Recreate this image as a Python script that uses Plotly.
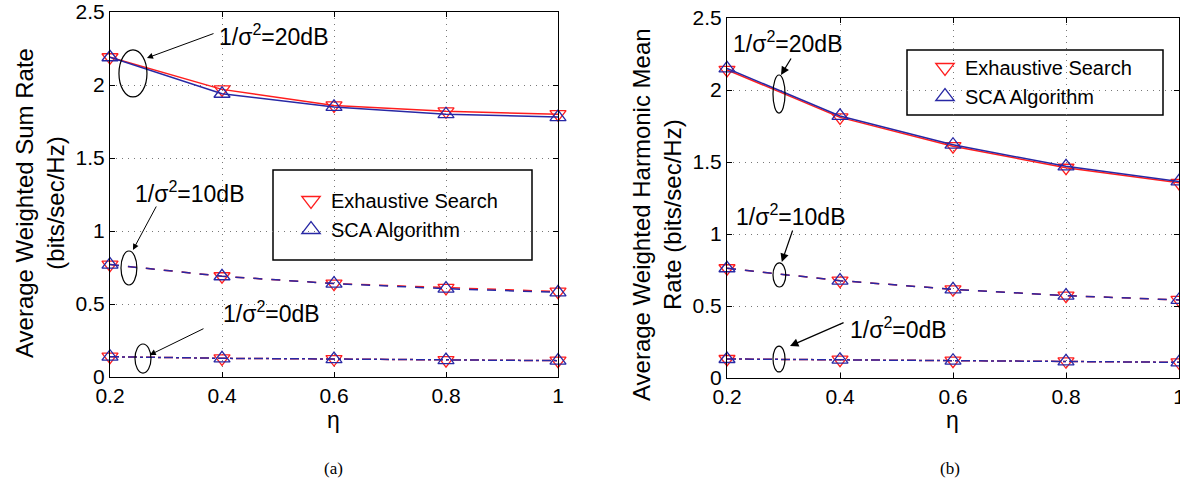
import plotly.graph_objects as go

eta = [0.2, 0.4, 0.6, 0.8, 1.0]

# (a) Average weighted sum rate
a_es_20 = [2.19, 1.97, 1.86, 1.82, 1.80]
a_sca_20 = [2.19, 1.94, 1.85, 1.80, 1.78]
a_es_10 = [0.77, 0.69, 0.64, 0.61, 0.585]
a_sca_10 = [0.77, 0.69, 0.64, 0.605, 0.58]
a_es_0 = [0.139, 0.128, 0.123, 0.116, 0.112]
a_sca_0 = [0.139, 0.128, 0.123, 0.116, 0.112]

# (b) Average weighted harmonic mean rate
b_es_20 = [2.14, 1.81, 1.61, 1.46, 1.355]
b_sca_20 = [2.15, 1.82, 1.62, 1.47, 1.365]
b_es_10 = [0.762, 0.676, 0.616, 0.572, 0.542]
b_sca_10 = [0.762, 0.676, 0.616, 0.572, 0.542]
b_es_0 = [0.132, 0.127, 0.12, 0.116, 0.109]
b_sca_0 = [0.132, 0.127, 0.12, 0.116, 0.109]

legend_names = ["Exhaustive Search", "SCA Algorithm"]
snr_labels = ["1/σ<sup>2</sup>=20dB", "1/σ<sup>2</sup>=10dB", "1/σ<sup>2</sup>=0dB"]

RED = "rgb(255,30,30)"
BLUE = "rgb(40,40,165)"
FONT = "Liberation Sans"

fig = go.Figure()

def add_series(es, sca, dash, xa, ya):
    fig.add_trace(go.Scatter(x=eta, y=es, mode="lines+markers", xaxis=xa, yaxis=ya,
                             line=dict(color=RED, width=1.5, dash=dash),
                             marker=dict(symbol="triangle-down-open", size=14, color=RED, line=dict(width=1.3)),
                             showlegend=False, cliponaxis=False))
    fig.add_trace(go.Scatter(x=eta, y=sca, mode="lines+markers", xaxis=xa, yaxis=ya,
                             line=dict(color=BLUE, width=1.5, dash=dash),
                             marker=dict(symbol="triangle-up-open", size=14, color=BLUE, line=dict(width=1.3)),
                             showlegend=False, cliponaxis=False))

add_series(a_es_20, a_sca_20, "solid", "x", "y")
add_series(a_es_10, a_sca_10, "dash", "x", "y")
add_series(a_es_0, a_sca_0, "dashdot", "x", "y")
add_series(b_es_20, b_sca_20, "solid", "x2", "y2")
add_series(b_es_10, b_sca_10, "dash", "x2", "y2")
add_series(b_es_0, b_sca_0, "dashdot", "x2", "y2")

# legend-only entries
for lg, xa, ya in [("legend", "x", "y"), ("legend2", "x2", "y2")]:
    fig.add_trace(go.Scatter(x=[None], y=[None], mode="markers", name=legend_names[0], legend=lg,
                             xaxis=xa, yaxis=ya,
                             marker=dict(symbol="triangle-down-open", size=16, color=RED, line=dict(width=1.3))))
    fig.add_trace(go.Scatter(x=[None], y=[None], mode="markers", name=legend_names[1], legend=lg,
                             xaxis=xa, yaxis=ya,
                             marker=dict(symbol="triangle-up-open", size=16, color=BLUE, line=dict(width=1.3))))

W, H = 1180, 497
def px(xp): return xp / W
def py(yp): return 1 - yp / H

axis_common = dict(showline=True, linecolor="black", linewidth=1, mirror="allticks",
                   ticks="inside", ticklen=5, tickcolor="black", automargin=False,
                   ticklabeloverflow="allow",
                   showgrid=True, gridcolor="rgb(120,120,120)", griddash="1px,5px", gridwidth=1,
                   zeroline=False, tickfont=dict(family=FONT, size=21, color="black"))

fig.update_layout(
    width=W, height=H, margin=dict(l=0, r=0, t=0, b=0, autoexpand=False),
    paper_bgcolor="white", plot_bgcolor="white",
    font=dict(family=FONT, color="black"),
    xaxis=dict(domain=[px(110), px(558)], range=[0.2, 1.0], tickvals=eta, anchor="y", **axis_common),
    yaxis=dict(domain=[py(377), py(12)], range=[0, 2.5], dtick=0.5, anchor="x", **axis_common),
    xaxis2=dict(domain=[px(727), px(1179)], range=[0.2, 1.0], tickvals=eta, anchor="y2", **axis_common),
    yaxis2=dict(domain=[py(378), py(18)], range=[0, 2.5], dtick=0.5, anchor="x2", **axis_common),
    legend=dict(x=px(291), y=py(181), xanchor="left", yanchor="top", bgcolor="rgba(0,0,0,0)",
                borderwidth=0, font=dict(family=FONT, size=20, color="black")),
    legend2=dict(x=px(925), y=py(48), xanchor="left", yanchor="top", bgcolor="rgba(0,0,0,0)",
                 borderwidth=0, font=dict(family=FONT, size=20, color="black")),
)

shapes = []
# legend boxes
shapes.append(dict(type="rect", xref="paper", yref="paper", x0=px(273), x1=px(532), y0=py(260), y1=py(170),
                   line=dict(color="black", width=1.5), fillcolor="white", layer="below"))
shapes.append(dict(type="rect", xref="paper", yref="paper", x0=px(907), x1=px(1163), y0=py(115), y1=py(50),
                   line=dict(color="black", width=1.5), fillcolor="white", layer="below"))

# ellipses (data coords)
ell_a = [(0.216, 0.266, 1.918, 2.24), (0.2196, 0.248, 0.63, 0.863), (0.2446, 0.2732, 0.027, 0.226)]
ell_b = [(0.2814, 0.3027, 1.84, 2.104), (0.2814, 0.304, 0.632, 0.799), (0.2814, 0.3027, 0.042, 0.222)]
for (x0, x1, y0, y1) in ell_a:
    shapes.append(dict(type="circle", xref="x", yref="y", x0=x0, x1=x1, y0=y0, y1=y1,
                       line=dict(color="black", width=1.2)))
for (x0, x1, y0, y1) in ell_b:
    shapes.append(dict(type="circle", xref="x2", yref="y2", x0=x0, x1=x1, y0=y0, y1=y1,
                       line=dict(color="black", width=1.2)))
fig.update_layout(shapes=shapes)

ann = []
# text labels
txt_a = [(0.493, 2.342), (0.343, 1.267), (0.489, 0.445)]
txt_b = [(0.308, 2.333), (0.313, 1.132), (0.504, 0.347)]
for (x, y), t in zip(txt_a, snr_labels):
    ann.append(dict(x=x, y=y, xref="x", yref="y", text=t, showarrow=False, xanchor="center", yanchor="middle",
                    font=dict(family=FONT, size=23, color="black")))
for (x, y), t in zip(txt_b, snr_labels):
    ann.append(dict(x=x, y=y, xref="x2", yref="y2", text=t, showarrow=False, xanchor="center", yanchor="middle",
                    font=dict(family=FONT, size=23, color="black")))
# arrows
arr_a = [((0.3875, 2.356), (0.266, 2.185)), ((0.284, 1.178), (0.241, 0.870)), ((0.3696, 0.336), (0.271, 0.151))]
arr_b = [((0.315, 2.229), (0.2956, 2.104)), ((0.317, 1.035), (0.297, 0.806)), ((0.409, 0.389), (0.3115, 0.222))]
for (t, h) in arr_a:
    ann.append(dict(x=h[0], y=h[1], ax=t[0], ay=t[1], xref="x", yref="y", axref="x", ayref="y",
                    text="", showarrow=True, arrowhead=2, arrowsize=1.2, arrowwidth=1, arrowcolor="black"))
for (t, h) in arr_b:
    ann.append(dict(x=h[0], y=h[1], ax=t[0], ay=t[1], xref="x2", yref="y2", axref="x2", ayref="y2",
                    text="", showarrow=True, arrowhead=2, arrowsize=1.4, arrowwidth=1.2, arrowcolor="black"))

# axis titles
ann.append(dict(x=px(40), y=py(203), xref="paper", yref="paper", textangle=-90, showarrow=False,
                xanchor="center", yanchor="middle",
                text="Average Weighted Sum Rate<br>(bits/sec/Hz)", font=dict(family=FONT, size=24, color="black")))
ann.append(dict(x=px(657), y=py(215), xref="paper", yref="paper", textangle=-90, showarrow=False,
                xanchor="center", yanchor="middle",
                text="Average Weighted Harmonic Mean<br>Rate (bits/sec/Hz)", font=dict(family=FONT, size=24, color="black")))
for xc in [333, 952]:
    ann.append(dict(x=px(xc), y=py(420), xref="paper", yref="paper", showarrow=False, text="η",
                    xanchor="center", yanchor="middle", font=dict(family=FONT, size=23, color="black")))
for xc, t in [(333, "(a)"), (950, "(b)")]:
    ann.append(dict(x=px(xc), y=py(468), xref="paper", yref="paper", showarrow=False, text=t,
                    xanchor="center", yanchor="middle",
                    font=dict(family="Liberation Serif", size=17, color="black")))
fig.update_layout(annotations=ann)

fig.write_html("out.html", config={"displayModeBar": False},
               post_script="document.body.style.margin='0px';")
